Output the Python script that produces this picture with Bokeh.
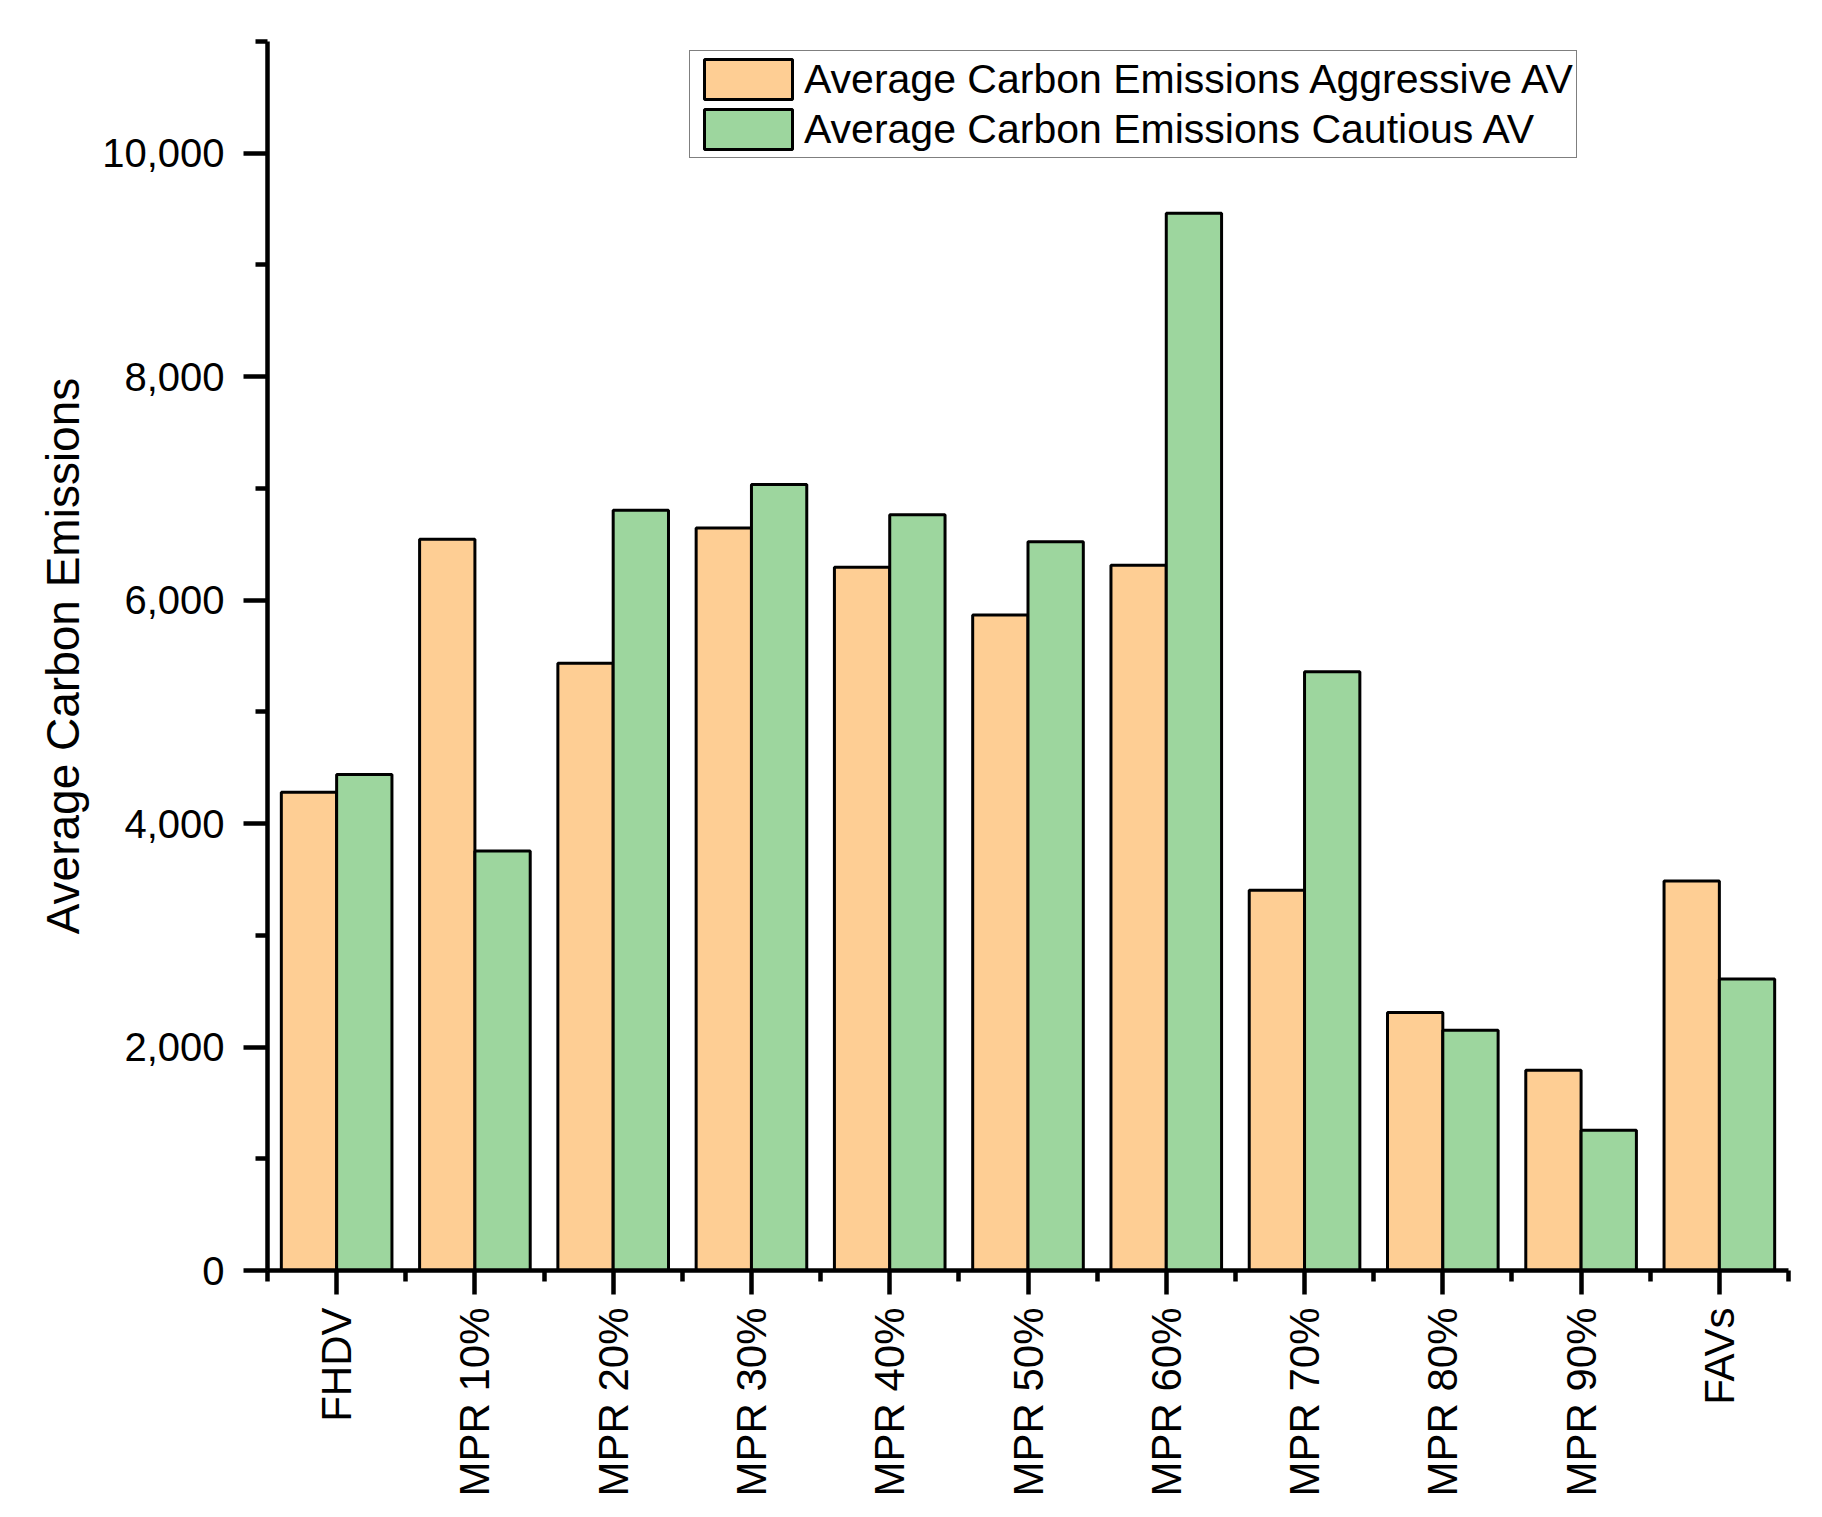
import numpy as np
from bokeh.plotting import figure
from bokeh.models import Range1d, FixedTicker, NumeralTickFormatter, Legend, LegendItem
from bokeh.embed import file_html
from bokeh.resources import INLINE

categories = ["FHDV", "MPR 10%", "MPR 20%", "MPR 30%", "MPR 40%", "MPR 50%",
              "MPR 60%", "MPR 70%", "MPR 80%", "MPR 90%", "FAVs"]
aggressive = [4280, 6545, 5435, 6645, 6295, 5868, 6312, 3403, 2310, 1792, 3486]
cautious = [4440, 3755, 6805, 7035, 6765, 6523, 9463, 5360, 2150, 1256, 2610]
y_ticks = [0, 2000, 4000, 6000, 8000, 10000]
y_minor = [1000, 3000, 5000, 7000, 9000, 11000]

FONT = "Liberation Sans"
ORANGE = "#FECE94"
GREEN = "#9DD69E"

n = len(categories)
idx = np.arange(n)

p = figure(width=1806, height=1501, output_backend="svg", toolbar_location=None,
           x_range=Range1d(0, n), y_range=Range1d(0, 11000),
           min_border_left=267, min_border_right=18, min_border_top=41,
           min_border_bottom=231)
p.outline_line_color = None
p.xgrid.visible = False
p.ygrid.visible = False
p.background_fill_color = "white"
p.border_fill_color = "white"

r1 = p.vbar(x=idx + 0.3, top=aggressive, bottom=0, width=0.4,
            fill_color=ORANGE, line_color="black", line_width=3)
r2 = p.vbar(x=idx + 0.7, top=cautious, bottom=0, width=0.4,
            fill_color=GREEN, line_color="black", line_width=3)

# X axis
xa = p.xaxis[0]
xa.ticker = FixedTicker(ticks=list(idx + 0.5), minor_ticks=list(range(n + 1)))
xa.major_label_overrides = {float(i + 0.5): c for i, c in enumerate(categories)}
xa.major_label_orientation = np.pi / 2
xa.major_label_text_font = FONT
xa.major_label_text_font_size = "42px"
xa.major_label_text_color = "black"
xa.major_label_standoff = 13
xa.axis_line_width = 4.5
xa.axis_line_color = "black"
xa.major_tick_line_width = 4.5
xa.minor_tick_line_width = 4.5
xa.major_tick_out = 24
xa.major_tick_in = 0
xa.minor_tick_out = 11
xa.minor_tick_in = 0

# Y axis
ya = p.yaxis[0]
ya.ticker = FixedTicker(ticks=y_ticks, minor_ticks=y_minor)
ya.formatter = NumeralTickFormatter(format="0,0")
ya.major_label_text_font = FONT
ya.major_label_text_font_size = "40px"
ya.major_label_text_color = "black"
ya.major_label_standoff = 19
ya.axis_line_width = 4.5
ya.axis_line_color = "black"
ya.major_tick_line_width = 4.5
ya.minor_tick_line_width = 4.5
ya.major_tick_out = 24
ya.major_tick_in = 0
ya.minor_tick_out = 12
ya.minor_tick_in = 0
ya.axis_label = "Average Carbon Emissions"
ya.axis_label_text_font = FONT
ya.axis_label_text_font_size = "46px"
ya.axis_label_text_font_style = "normal"
ya.axis_label_text_color = "black"
ya.axis_label_standoff = 10

legend = Legend(items=[
    LegendItem(label="Average Carbon Emissions Aggressive AV", renderers=[r1]),
    LegendItem(label="Average Carbon Emissions Cautious AV", renderers=[r2]),
], location=(422, 1112))
legend.glyph_width = 110
legend.glyph_height = 50
legend.label_height = 50
legend.spacing = 0
legend.padding = 3
legend.margin = 0
legend.label_standoff = 1
legend.label_text_font = FONT
legend.label_text_font_size = "41px"
legend.label_text_color = "black"
legend.border_line_color = "black"
legend.border_line_width = 1.5
legend.background_fill_color = "white"
legend.background_fill_alpha = 1.0
p.add_layout(legend, "center")

open("out.html", "w").write(file_html(p, INLINE))
